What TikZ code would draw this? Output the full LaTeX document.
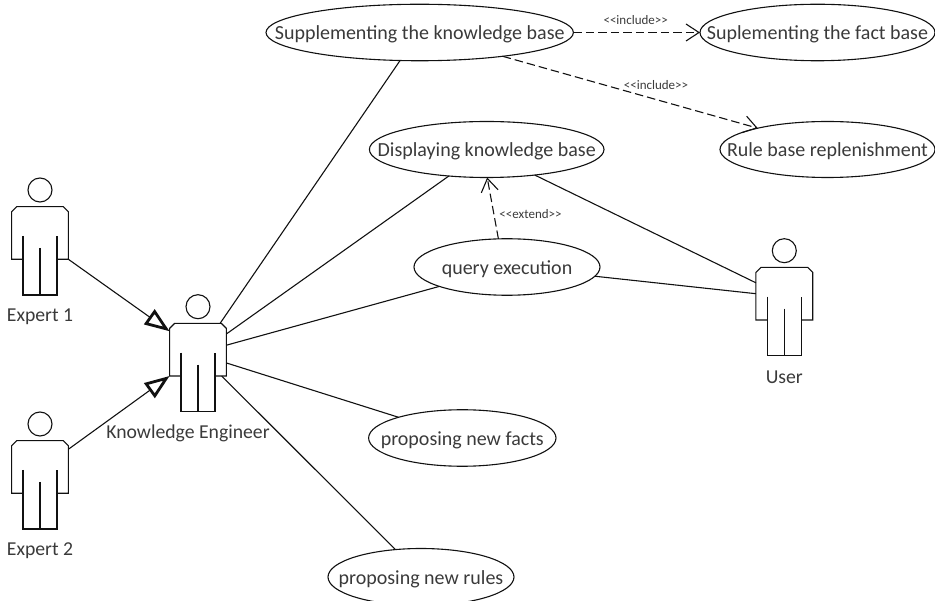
\documentclass[tikz,border=0pt]{standalone}
\usepackage{fontspec}
\setmainfont{Carlito}
\usetikzlibrary{arrows.meta,shapes.geometric}
\definecolor{txt}{HTML}{3A3A3A}
\definecolor{ln}{HTML}{111111}
\tikzset{
  usecase/.style={ellipse,draw=ln,line width=1.1pt,inner sep=0pt,outer sep=0pt,text=txt,font=\fontsize{20}{22}\selectfont},
  actorbody/.style={rectangle,inner sep=0pt,outer sep=0pt,minimum width=56.8pt,minimum height=52.6pt},
  actorline/.style={draw=ln,line width=1.1pt},
  actorlabel/.style={text=txt,font=\fontsize{19.7}{22}\selectfont,inner sep=0pt},
  assoc/.style={draw=ln,line width=1.1pt},
  general/.style={draw=ln,line width=1.1pt,-{Triangle[open,length=25pt,width=18pt,line width=2.8pt]}},
  dep/.style={draw=ln,line width=1.1pt,dash pattern=on 8.5pt off 4pt,-{Straight Barb[length=13pt,width=17pt,line width=1.1pt]}},
  stereo/.style={text=txt,font=\fontsize{13}{15}\selectfont,inner sep=0pt}
}
\newcommand{\uctext}[1]{\makebox[0pt]{\raisebox{-.36em}[0pt][0pt]{#1}}}
\newcommand{\umlactor}[5]{%
  \begin{scope}[shift={(#2,#3)}]
    \draw[actorline] (0,0) circle (12);
    \draw[actorline] (-17,69.3)--(-28.4,69.3)--(-28.4,21.7)--(-23.4,16.7)--(23.4,16.7)--(28.4,21.7)--(28.4,69.3)--(17,69.3);
    \draw[actorline] (-17,46)--(-17,105)--(17,105)--(17,46);
    \draw[actorline] (0,58)--(0,105);
    \node[actorbody] (#1) at (0,43) {};
    \node[actorlabel] (#1label) at (#5,126.3) {#4};
  \end{scope}}
\begin{document}
\begin{tikzpicture}[x=1pt,y=-1pt]
\clip (0,0) rectangle (935,601);
\umlactor{eone}{40}{190}{Expert 1}{0}
\umlactor{etwo}{40}{424}{Expert 2}{0}
\umlactor{ke}{198}{306.7}{Knowledge Engineer}{-10}
\umlactor{user}{784.3}{250.7}{User}{0}

\node[usecase,minimum width=307.4pt,minimum height=56.5pt] (supp) at (419.7,32.5) {\uctext{Supplementing the knowledge base}};
\node[usecase,minimum width=235pt,minimum height=56.5pt] (fact) at (817.5,32.5) {\uctext{Suplementing the fact base}};
\node[usecase,minimum width=215pt,minimum height=56pt] (rule) at (827.5,149.5) {\uctext{Rule base replenishment}};
\node[usecase,minimum width=234.6pt,minimum height=56pt] (disp) at (486.7,149.5) {\uctext{Displaying knowledge base}};
\node[usecase,minimum width=186pt,minimum height=56.5pt] (query) at (507,267) {\uctext{query execution}};
\node[usecase,minimum width=187.4pt,minimum height=56.5pt] (facts) at (462.3,438) {\uctext{proposing new facts}};
\node[usecase,minimum width=186pt,minimum height=57pt] (rules) at (421,577) {\uctext{proposing new rules}};

\draw[general] (eone.south east) -- (ke.147.9);
\draw[general] (etwo.32.4) -- (ke.south west);
\draw[assoc] (ke.50.7) -- (supp.235.3);
\draw[assoc] (ke.29.7) -- (disp.215.6);
\draw[assoc] (ke.9.3) -- (query.196.2);
\draw[assoc] (ke.335.6) -- (facts.162.3);
\draw[assoc] (ke.312) -- (rules.133.5);
\draw[assoc] (disp.332.7) -- (user.159.3);
\draw[assoc] (query.354.5) -- (user.west);
\draw[dep] (supp.east) -- (fact.west);
\draw[dep] (supp.344.3) -- (rule.163.8);
\draw[dep] (query.107.3) -- (disp.271);

\node[stereo] (incone) at (635.7,19.8) {<{}<include>{}>};
\node[stereo] (inctwo) at (656,84.8) {<{}<include>{}>};
\node[stereo] (ext) at (530.5,214.5) {<{}<extend>{}>};
\end{tikzpicture}
\end{document}
